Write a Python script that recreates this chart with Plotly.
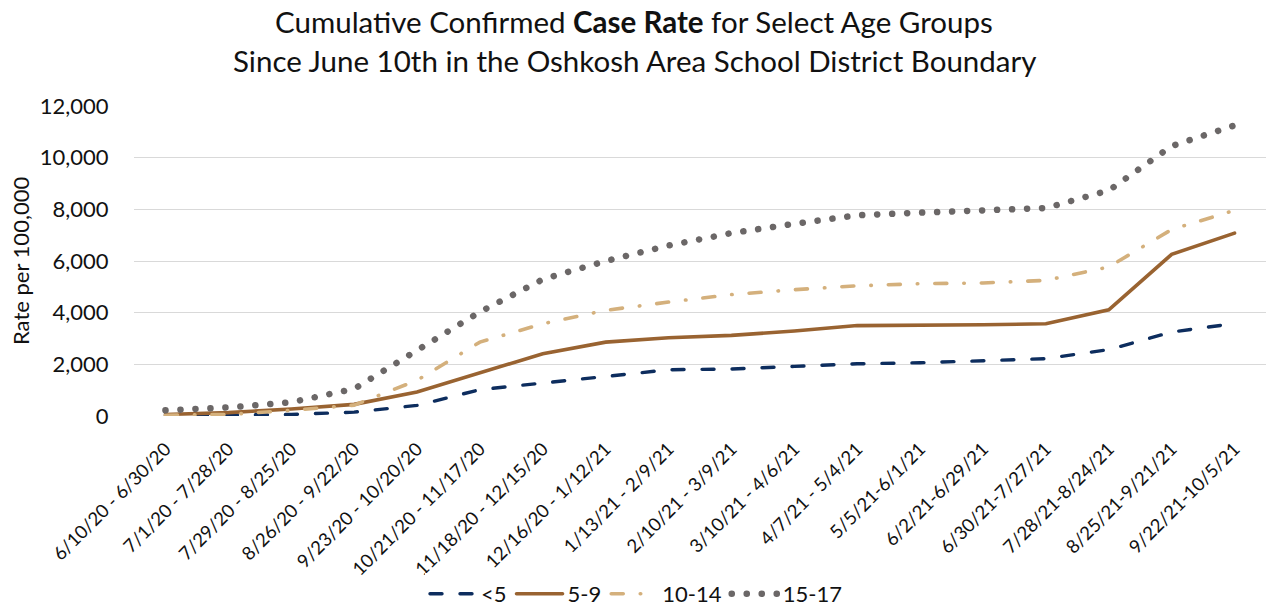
import plotly.graph_objects as go

categories = [
    "6/10/20 - 6/30/20", "7/1/20 - 7/28/20", "7/29/20 - 8/25/20", "8/26/20 - 9/22/20",
    "9/23/20 - 10/20/20", "10/21/20 - 11/17/20", "11/18/20 - 12/15/20", "12/16/20 - 1/12/21",
    "1/13/21 - 2/9/21", "2/10/21 - 3/9/21", "3/10/21 - 4/6/21", "4/7/21 - 5/4/21",
    "5/5/21-6/1/21", "6/2/21-6/29/21", "6/30/21-7/27/21", "7/28/21-8/24/21",
    "8/25/21-9/21/21", "9/22/21-10/5/21",
]
under5 = [10, 20, 60, 150, 410, 1020, 1290, 1530, 1790, 1820, 1920, 2020, 2060, 2150, 2220, 2570, 3250, 3580]
age5_9 = [60, 130, 270, 450, 930, 1660, 2410, 2860, 3030, 3120, 3290, 3500, 3500, 3530, 3570, 4110, 6260, 7080]
age10_14 = [30, 60, 220, 420, 1380, 2860, 3570, 4090, 4410, 4700, 4890, 5040, 5120, 5150, 5250, 5770, 7220, 7960]
age15_17 = [220, 330, 530, 1050, 2540, 4030, 5290, 6000, 6600, 7080, 7440, 7770, 7870, 7960, 8050, 8730, 10450, 11250]
y_ticks = [0, 2000, 4000, 6000, 8000, 10000, 12000]
title_lines = [
    "Cumulative Confirmed <b>Case Rate</b> for Select Age Groups",
    "Since June 10th in the Oshkosh Area School District Boundary",
]

FONT = "Lato, 'Open Sans', sans-serif"
TOP, BOTTOM = 106, 416   # plot area in pixels
PH = BOTTOM - TOP

fig = go.Figure()
fig.add_trace(go.Scatter(x=categories, y=under5, name="<5", mode="lines",
                         line=dict(color="#0D2D5E", width=3.4, dash="12px,18px")))
fig.add_trace(go.Scatter(x=categories, y=age5_9, name="5-9", mode="lines",
                         line=dict(color="#996331", width=3.6)))
fig.add_trace(go.Scatter(x=categories, y=age10_14, name="10-14", mode="lines",
                         line=dict(color="#D4B07C", width=3.6, dash="12px,17px,0.5px,17px")))
fig.add_trace(go.Scatter(x=categories, y=age15_17, name="15-17", mode="lines",
                         line=dict(color="#6B6767", width=6.5, dash="0.1px,14.9px")))

annotations = [dict(
    text="Rate per 100,000", textangle=-90, showarrow=False,
    xref="paper", yref="paper", x=(20 - 134) / 1132, y=0.5,
    xanchor="center", yanchor="middle",
    font=dict(family=FONT, size=22, color="#111111"),
)]
for line, ypx in zip(title_lines, [22, 61]):
    annotations.append(dict(
        text=line, showarrow=False, xref="paper", yref="paper",
        x=(634 - 134) / 1132, y=(BOTTOM - ypx) / PH,
        xanchor="center", yanchor="middle",
        font=dict(family=FONT, size=29.5, color="#111111"),
    ))

fig.update_layout(
    width=1268, height=607,
    margin=dict(l=134, r=2, t=TOP, b=607 - BOTTOM, autoexpand=False),
    paper_bgcolor="white", plot_bgcolor="white",
    font=dict(family=FONT, color="#111111"),
    xaxis=dict(
        type="category", range=[-0.5, 17.5], tickangle=-45, automargin=False,
        showgrid=False, showline=False, zeroline=False,
        ticks="outside", ticklen=14, tickcolor="rgba(0,0,0,0)",
        tickfont=dict(family=FONT, size=18.5, color="#111111"),
    ),
    yaxis=dict(
        range=[0, 12000], tickvals=y_ticks, tickformat=",d", automargin=False,
        showgrid=True, gridcolor="#D9D9D9", gridwidth=1.3,
        zeroline=False, showline=False,
        ticks="outside", ticklen=20, tickcolor="rgba(0,0,0,0)",
        tickfont=dict(family=FONT, size=22, color="#111111"),
    ),
    legend=dict(
        orientation="h", x=(636 - 134) / 1132, xanchor="center",
        y=(BOTTOM - 594) / PH, yanchor="middle",
        font=dict(family=FONT, size=22, color="#111111"),
        itemwidth=46, tracegroupgap=0,
    ),
    showlegend=True,
    annotations=annotations,
)

post = """
document.body.style.margin = '0';
document.body.style.padding = '0';
var gd = document.getElementById('{plot_id}');
function fixCaps(){
  gd.querySelectorAll('path.js-line').forEach(function(p){ p.style.strokeLinecap='round'; });
}
fixCaps();
if (gd.on) { gd.on('plotly_afterplot', fixCaps); }
"""
fig.write_html("out.html", post_script=post, config={"displayModeBar": False})
